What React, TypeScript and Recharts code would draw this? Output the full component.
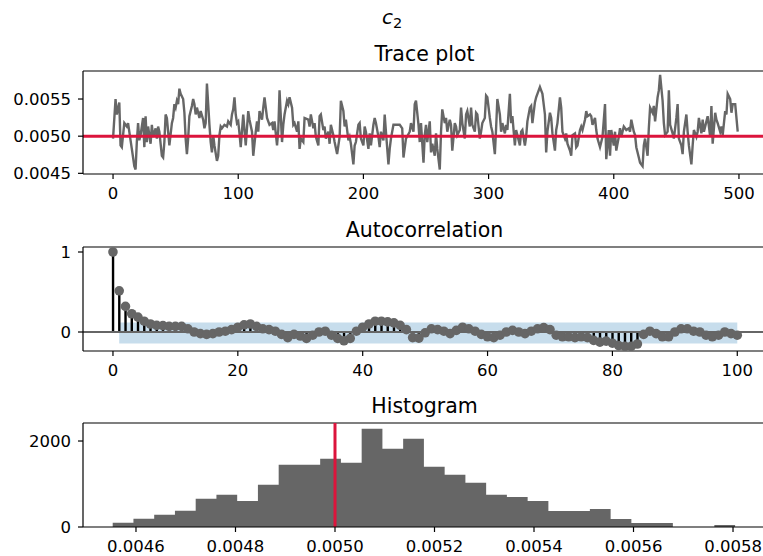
import React from 'react';
import { ComposedChart, Line, Bar, Area, XAxis, YAxis, ReferenceLine } from 'recharts';

// trace of c_2 (iteration, value)
const traceIter = [
  0, 2, 3, 5, 6, 7, 9, 11, 12, 14, 15, 17, 18, 19, 20, 21, 22, 24, 25, 26, 27, 28, 30, 31, 32, 34, 35, 36, 37, 39,
  40, 41, 42, 43, 44, 45, 47, 48, 49, 50, 51, 52, 53, 54, 56, 57, 58, 59, 60, 61, 62, 63, 64, 65, 66, 67, 68, 69, 70, 72,
  73, 74, 75, 76, 77, 78, 79, 80, 81, 83, 84, 85, 86, 87, 89, 91, 92, 94, 95, 96, 97, 98, 99, 100, 101, 102, 104, 106, 108, 109,
  111, 112, 114, 115, 116, 117, 119, 120, 121, 123, 125, 127, 128, 129, 131, 132, 133, 135, 136, 137, 139, 140, 141, 143, 144, 145, 147, 148, 149, 150,
  152, 153, 156, 157, 158, 160, 161, 162, 164, 165, 166, 168, 169, 170, 172, 173, 174, 176, 177, 179, 181, 182, 184, 185, 186, 188, 189, 190, 192, 193,
  194, 196, 197, 198, 200, 201, 202, 204, 205, 206, 208, 209, 210, 212, 213, 214, 216, 217, 218, 220, 221, 222, 224, 226, 229, 231, 232, 234, 237, 238,
  240, 241, 242, 244, 245, 246, 248, 249, 250, 251, 253, 254, 255, 257, 258, 259, 261, 262, 263, 265, 266, 267, 269, 270, 271, 273, 274, 275, 277, 278,
  279, 281, 282, 283, 285, 286, 287, 289, 290, 291, 293, 294, 295, 297, 298, 299, 301, 302, 303, 305, 306, 307, 309, 310, 311, 313, 314, 315, 317, 318,
  319, 321, 322, 323, 325, 326, 327, 329, 330, 331, 333, 334, 335, 337, 338, 339, 341, 342, 343, 345, 346, 347, 349, 350, 351, 353, 354, 355, 357, 358,
  359, 361, 362, 363, 365, 366, 367, 369, 370, 371, 373, 374, 375, 377, 378, 379, 381, 382, 383, 385, 386, 387, 389, 390, 391, 393, 394, 396, 397, 398,
  400, 401, 402, 404, 405, 406, 408, 409, 410, 412, 413, 414, 416, 417, 418, 420, 421, 423, 424, 425, 427, 428, 429, 431, 432, 433, 435, 436, 437, 439,
  440, 441, 443, 444, 445, 447, 448, 450, 451, 452, 454, 455, 456, 458, 459, 460, 462, 463, 464, 466, 467, 468, 470, 471, 472, 474, 475, 477, 478, 479,
  481, 482, 483, 485, 486, 487, 489, 490, 491, 493, 494, 495, 497, 499,
];
const traceValue = [
  0.004968, 0.0055, 0.005292, 0.005454, 0.004875, 0.004852, 0.005176, 0.00513, 0.005176, 0.004944, 0.004829, 0.004597, 0.004551, 0.004921, 0.005176, 0.004944, 0.005014, 0.005245, 0.004852, 0.005269, 0.004921, 0.00513, 0.004898, 0.005153, 0.004991, 0.005106, 0.004968, 0.00513, 0.00506, 0.004736,
  0.004713, 0.004921, 0.005292, 0.005245, 0.00506, 0.004875, 0.005176, 0.005245, 0.005431, 0.005384, 0.005477, 0.005431, 0.005639, 0.005569, 0.0055, 0.005315, 0.004968, 0.004759, 0.004968, 0.005269, 0.005338, 0.005407, 0.0055, 0.005431, 0.005292, 0.005384, 0.005315, 0.005245, 0.005338, 0.005222,
  0.005106, 0.005176, 0.005708, 0.005431, 0.005153, 0.004921, 0.004782, 0.005014, 0.004875, 0.004667, 0.004736, 0.005014, 0.00513, 0.005106, 0.005153, 0.00513, 0.005199, 0.005153, 0.005292, 0.005361, 0.005523, 0.005292, 0.005176, 0.005199, 0.005037, 0.004852, 0.005292, 0.004875, 0.005338, 0.005222,
  0.00506, 0.004736, 0.00506, 0.005199, 0.00506, 0.005338, 0.005222, 0.005384, 0.005523, 0.005245, 0.005153, 0.005176, 0.005083, 0.005199, 0.004875, 0.005083, 0.005616, 0.004921, 0.005153, 0.005292, 0.005477, 0.005431, 0.005523, 0.005384, 0.005153, 0.005176, 0.00506, 0.005199, 0.004829, 0.004968,
  0.004921, 0.005245, 0.005222, 0.00513, 0.005292, 0.005106, 0.005176, 0.004991, 0.004875, 0.005269, 0.005292, 0.005083, 0.00513, 0.004968, 0.00506, 0.004898, 0.005153, 0.005014, 0.004921, 0.004759, 0.004991, 0.005477, 0.005338, 0.00513, 0.005222, 0.004944, 0.004991, 0.004898, 0.00462, 0.004875,
  0.004921, 0.005153, 0.005176, 0.004968, 0.004875, 0.00513, 0.00506, 0.004829, 0.005037, 0.004875, 0.005153, 0.005245, 0.005176, 0.004991, 0.004852, 0.00506, 0.004944, 0.005292, 0.00506, 0.00462, 0.004829, 0.004968, 0.005153, 0.005153, 0.005153, 0.005106, 0.004713, 0.004968, 0.00506, 0.005176,
  0.00506, 0.005431, 0.005477, 0.005153, 0.004921, 0.005176, 0.004643, 0.005014, 0.005153, 0.004921, 0.005199, 0.004782, 0.004898, 0.004736, 0.005037, 0.004829, 0.004551, 0.00506, 0.005361, 0.005176, 0.005245, 0.00506, 0.005222, 0.005153, 0.004806, 0.005176, 0.00513, 0.005014, 0.005083, 0.005384,
  0.005176, 0.004968, 0.005292, 0.005338, 0.00513, 0.005384, 0.005153, 0.00506, 0.005315, 0.005292, 0.004968, 0.00506, 0.005176, 0.005245, 0.005546, 0.005523, 0.005245, 0.00513, 0.00506, 0.004759, 0.005106, 0.0055, 0.005292, 0.00506, 0.005176, 0.005037, 0.005153, 0.005083, 0.005569, 0.005176,
  0.005269, 0.004875, 0.005083, 0.005014, 0.004875, 0.00506, 0.005083, 0.004875, 0.004991, 0.005199, 0.005384, 0.005407, 0.005176, 0.005454, 0.005523, 0.005569, 0.005662, 0.005616, 0.005569, 0.005292, 0.004782, 0.00506, 0.005315, 0.005245, 0.005037, 0.004806, 0.005083, 0.005176, 0.005523, 0.005384,
  0.00506, 0.004968, 0.005037, 0.004898, 0.004806, 0.004736, 0.005014, 0.005037, 0.004852, 0.004875, 0.005083, 0.00513, 0.005083, 0.005222, 0.005338, 0.005269, 0.005292, 0.005269, 0.005153, 0.005245, 0.005083, 0.004968, 0.004852, 0.004921, 0.004991, 0.005431, 0.00469, 0.005083, 0.004736, 0.005083,
  0.004875, 0.00506, 0.004806, 0.004991, 0.005106, 0.004991, 0.00513, 0.005106, 0.005083, 0.005106, 0.00506, 0.005222, 0.00506, 0.005014, 0.004852, 0.004713, 0.004643, 0.004597, 0.004875, 0.004968, 0.004736, 0.005106, 0.005384, 0.005315, 0.005407, 0.005199, 0.005523, 0.005616, 0.005824, 0.005477,
  0.005176, 0.005014, 0.00506, 0.005616, 0.005153, 0.005037, 0.004968, 0.005245, 0.005431, 0.004968, 0.004875, 0.004759, 0.00506, 0.005292, 0.00506, 0.004875, 0.00462, 0.004875, 0.005083, 0.004991, 0.00506, 0.005245, 0.005037, 0.005222, 0.00506, 0.005199, 0.005269, 0.004991, 0.005407, 0.004898,
  0.005315, 0.005222, 0.005176, 0.00506, 0.00513, 0.005014, 0.005338, 0.005292, 0.005569, 0.0055, 0.005315, 0.005431, 0.005431, 0.00506,
];
const trueValue = 0.005;
const traceXTicks = [0, 100, 200, 300, 400, 500];
const traceYTicks = [0.0045, 0.005, 0.0055];

// autocorrelation, lags 0..100
const acfValues = [
  1.0, 0.515, 0.32, 0.228, 0.186, 0.135, 0.1, 0.084, 0.08, 0.07, 0.07, 0.07, 0.04, 0.0, -0.02, -0.03, -0.02, 0.0, 0.01, 0.03,
  0.06, 0.09, 0.1, 0.07, 0.04, 0.03, 0.01, -0.03, -0.07, -0.03, -0.05, -0.08, -0.04, 0.0, 0.01, -0.04, -0.08, -0.11, -0.08, 0.01,
  0.06, 0.1, 0.135, 0.135, 0.127, 0.114, 0.084, 0.03, -0.07, -0.076, -0.01, 0.04, 0.03, 0.01, -0.02, 0.02, 0.06, 0.04, 0.01, -0.03,
  -0.06, -0.07, -0.04, 0.0, 0.02, 0.0, -0.02, 0.01, 0.04, 0.055, 0.03, -0.04, -0.06, -0.06, -0.07, -0.06, -0.07, -0.105, -0.127, -0.114,
  -0.14, -0.17, -0.18, -0.18, -0.15, -0.03, 0.01, -0.02, -0.06, -0.06, 0.0, 0.04, 0.04, 0.01, 0.0, -0.04, -0.06, -0.04, 0.0, -0.02,
  -0.04,
];
const acfBandLow = -0.145;
const acfBandHigh = 0.12;
const acfXTicks = [0, 20, 40, 60, 80, 100];
const acfYTicks = [0, 1];

// histogram bins
const histEdges = [
  0.0045532, 0.0045949, 0.0046366, 0.0046783, 0.00472, 0.0047617, 0.0048034, 0.0048451, 0.0048868, 0.0049285, 0.0049702,
  0.0050119, 0.0050536, 0.0050953, 0.005137, 0.0051787, 0.0052204, 0.0052621, 0.0053038, 0.0053455, 0.0053872,
  0.0054289, 0.0054706, 0.0055123, 0.005554, 0.0055957, 0.0056374, 0.0056791, 0.0057208, 0.0057625, 0.0058042,
];
const histCounts = [
  100, 193, 286, 379, 658, 751, 605, 984, 1449, 1449, 1588, 1495, 2286, 1821, 2053,
  1402, 1216, 1030, 751, 698, 605, 372, 372, 419, 186, 93, 93, 0, 0, 47,
];
const histXTicks = [0.0046, 0.0048, 0.005, 0.0052, 0.0054, 0.0056, 0.0058];
const histYTicks = [0, 2000];

const FONT = '"DejaVu Sans", sans-serif';
const GREY = '#666666';
const RED = '#dc143c';
const BAND = '#c7ddec';
const CHART_W = 766;
const tick = { fill: '#000', fontSize: 16.5, fontFamily: FONT };
const axisLine = { stroke: '#000', strokeWidth: 1.2 };
const margin = { top: 10, right: 0, bottom: 0, left: 0 };

const traceData = traceIter.map((it, i) => ({ it, value: traceValue[i] }));
const acfData = acfValues.map((acf, lag) => ({
  lag,
  acf,
  band: lag === 0 ? undefined : [acfBandLow, acfBandHigh],
}));
const histData = histEdges.map((x, i) => ({
  x,
  count: histCounts[Math.min(i, histCounts.length - 1)],
}));

const fmt4 = (v: number) => v.toFixed(4);

function xAxisProps(domain: number[], ticks: number[], key: string, fmt?: (v: number) => string) {
  return {
    dataKey: key,
    type: 'number' as const,
    domain,
    allowDataOverflow: true,
    ticks,
    interval: 0 as const,
    tick,
    tickFormatter: fmt,
    tickSize: 5,
    tickMargin: 8,
    axisLine,
    tickLine: axisLine,
    height: 40,
  };
}

function yAxisProps(domain: number[], ticks: number[], fmt?: (v: number) => string) {
  return {
    type: 'number' as const,
    domain,
    allowDataOverflow: true,
    ticks,
    interval: 0 as const,
    tick,
    tickFormatter: fmt,
    tickSize: 5,
    tickMargin: 7,
    axisLine,
    tickLine: axisLine,
    width: 83,
  };
}

export default function App() {
  const traceY = [0.004491, 0.005877];
  const acfY = [-0.2375, 1.0625];
  const histY = [0, 2419];

  return (
    <div
      style={{
        position: 'fixed',
        left: 0,
        top: 0,
        width: 763,
        height: 556,
        overflow: 'hidden',
        background: '#fff',
        fontFamily: FONT,
      }}
    >
      <div style={{ position: 'absolute', left: 0, top: 61 }}>
        <ComposedChart width={CHART_W} height={153} data={traceData} margin={margin}>
          <XAxis {...xAxisProps([-24, 521.6], traceXTicks, 'it')} />
          <YAxis {...yAxisProps(traceY, traceYTicks, fmt4)} />
          <ReferenceLine y={traceY[1]} stroke="#000" strokeWidth={1.2} />
          <Line
            dataKey="value"
            stroke={GREY}
            strokeWidth={2.4}
            dot={false}
            isAnimationActive={false}
          />
          <ReferenceLine y={trueValue} stroke={RED} strokeWidth={3} />
        </ComposedChart>
      </div>

      <div style={{ position: 'absolute', left: 0, top: 237 }}>
        <ComposedChart width={CHART_W} height={154} data={acfData} margin={margin}>
          <XAxis {...xAxisProps([-4.8, 104.6], acfXTicks, 'lag')} />
          <YAxis {...yAxisProps(acfY, acfYTicks)} />
          <ReferenceLine y={acfY[1]} stroke="#000" strokeWidth={1.2} />
          <Area
            dataKey="band"
            fill={BAND}
            fillOpacity={1}
            stroke="none"
            isAnimationActive={false}
          />
          <ReferenceLine y={0} stroke={GREY} strokeWidth={2.2} />
          <Bar dataKey="acf" fill="#000" barSize={2.4} isAnimationActive={false} />
          <Line
            dataKey="acf"
            stroke="none"
            dot={{ r: 4.8, fill: GREY, stroke: 'none' }}
            isAnimationActive={false}
          />
        </ComposedChart>
      </div>

      <div style={{ position: 'absolute', left: 0, top: 413 }}>
        <ComposedChart width={CHART_W} height={154} data={histData} margin={margin}>
          <XAxis {...xAxisProps([0.0044935, 0.0058663], histXTicks, 'x', fmt4)} />
          <YAxis {...yAxisProps(histY, histYTicks)} />
          <ReferenceLine y={histY[1]} stroke="#000" strokeWidth={1.2} />
          <Area
            type="stepAfter"
            dataKey="count"
            fill={GREY}
            fillOpacity={1}
            stroke="none"
            isAnimationActive={false}
          />
          <ReferenceLine x={trueValue} stroke={RED} strokeWidth={3} />
        </ComposedChart>
      </div>

      <svg
        width={763}
        height={556}
        style={{ position: 'absolute', left: 0, top: 0, pointerEvents: 'none' }}
      >
        <text x={392} y={24} textAnchor="middle" fontSize={20} fontFamily={FONT} fill="#000">
          <tspan fontStyle="italic">c</tspan>
          <tspan dy={4} fontSize={14.5}>2</tspan>
        </text>
        <text x={424.5} y={61} textAnchor="middle" fontSize={20.5} fontFamily={FONT} fill="#000">
          Trace plot
        </text>
        <text x={424.5} y={237} textAnchor="middle" fontSize={20.5} fontFamily={FONT} fill="#000">
          Autocorrelation
        </text>
        <text x={424.5} y={413} textAnchor="middle" fontSize={20.5} fontFamily={FONT} fill="#000">
          Histogram
        </text>
      </svg>
    </div>
  );
}
